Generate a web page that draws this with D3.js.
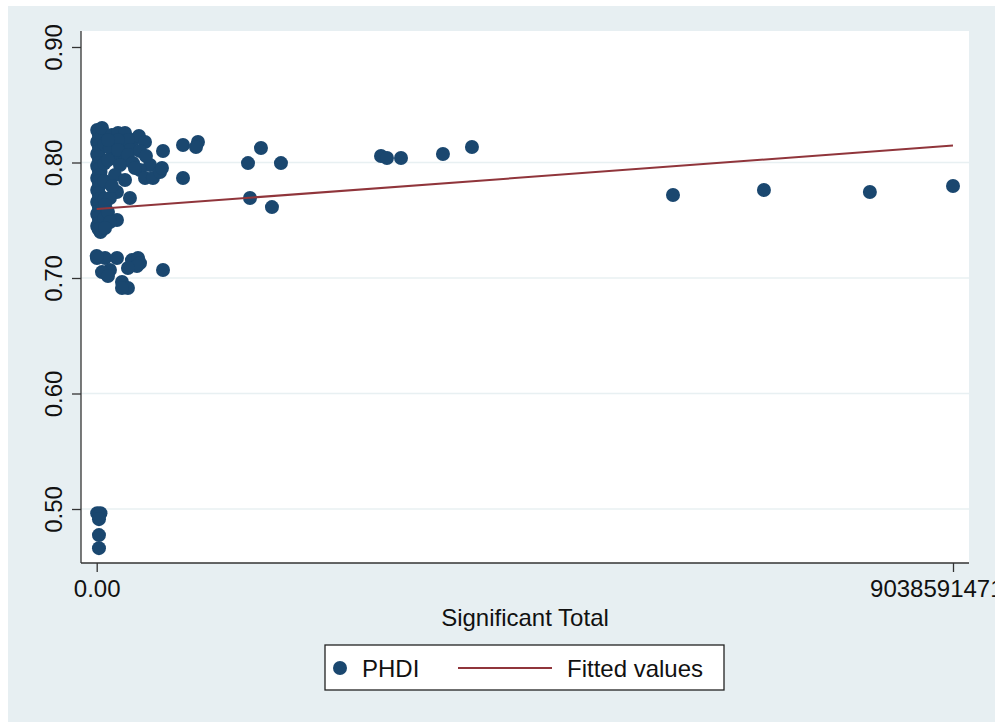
<!DOCTYPE html>
<html>
<head>
<meta charset="utf-8">
<script src="https://cdn.jsdelivr.net/npm/d3@7"></script>
<style>
html,body{margin:0;padding:0;background:#fff;}
svg{display:block;font-family:"Liberation Sans",Arial,Helvetica,sans-serif;}
</style>
</head>
<body>
<svg id="chart" width="995" height="722"></svg>
<script>
// ---- data (Significant Total, PHDI) ----
const sigTotal = [
  // dense column near zero
  5e6,40e6,5e6,40e6,5e6,40e6,5e6,40e6,5e6,40e6,5e6,40e6,5e6,40e6,5e6,40e6,5e6,40e6,
  20e6,20e6,20e6,20e6,20e6,20e6,20e6,20e6,20e6,20e6,20e6,20e6,20e6,20e6,20e6,20e6,20e6,
  80e6,80e6,80e6,80e6,80e6,
  // upper cluster
  56e6,161e6,225e6,299e6,383e6,446e6,510e6,246e6,140e6,
  330e6,225e6,119e6,351e6,193e6,299e6,563e6,457e6,
  225e6,330e6,457e6,520e6,700e6,119e6,246e6,
  383e6,404e6,510e6,594e6,668e6,689e6,193e6,299e6,
  214e6,351e6,140e6,161e6,88e6,119e6,
  214e6,140e6,88e6,
  // isolated mid points
  911e6,1069e6,1048e6,911e6,1597e6,1734e6,1945e6,1618e6,1850e6,
  3001e6,3064e6,3212e6,3655e6,3961e6,
  6083e6,7043e6,8161e6,9038591471,
  // lower cluster
  3e6,88e6,214e6,372e6,436e6,457e6,425e6,330e6,140e6,56e6,119e6,267e6,330e6,267e6,0,700e6,
  // outliers at the bottom
  5e6,40e6,24e6,24e6,24e6
];
const phdi = [
  0.8281,0.8229,0.8177,0.8125,0.8073,0.8021,0.7969,0.7917,0.7866,0.7814,0.7762,0.7710,0.7658,0.7606,0.7554,0.7502,0.7450,0.7398,
  0.8255,0.8203,0.8151,0.8099,0.8047,0.7995,0.7943,0.7892,0.7840,0.7788,0.7736,0.7684,0.7632,0.7580,0.7528,0.7476,0.7424,
  0.8160,0.7990,0.7840,0.7680,0.7520,
  0.8299,0.8238,0.8255,0.8255,0.8194,0.8229,0.8177,0.8151,0.8125,
  0.8194,0.8194,0.8194,0.8108,0.8039,0.8021,0.7978,0.7935,
  0.8108,0.8065,0.8099,0.8056,0.8099,0.8021,0.7978,
  0.7995,0.7952,0.7866,0.7866,0.7917,0.7952,0.7892,0.7848,
  0.7744,0.7692,0.7692,0.7796,0.7632,0.7571,
  0.7502,0.7485,0.7433,
  0.8151,0.8177,0.8134,0.7866,0.7995,0.8125,0.7995,0.7692,0.7614,
  0.8056,0.8039,0.8039,0.8073,0.8134,
  0.7718,0.7762,0.7744,0.7796,
  0.7173,0.7173,0.7173,0.7155,0.7173,0.7129,0.7103,0.7086,0.7069,0.7051,0.7017,0.6965,0.6913,0.6913,0.7190,0.7069,
  0.4964,0.4964,0.4912,0.4774,0.4661
];
const fitX = [0, 9038591471];
const fitY = [0.7597, 0.8147];
const yTicks = [0.5, 0.6, 0.7, 0.8, 0.9];
const xTicks = [0, 9038591471];
const xTickLabels = ["0.00", "9038591471.00"];
const xTitle = "Significant Total";
const legendLabels = ["PHDI", "Fitted values"];

// ---- styling ----
const W = 995, H = 722;
const plot = {left: 81, right: 969, top: 31, bottom: 563};
const bg = "#e7eff2";
const dotColor = "#1a476f";
const lineColor = "#90353b";

const svg = d3.select("#chart");

svg.append("rect").attr("x", 8).attr("y", 6).attr("width", W - 8).attr("height", H - 6).attr("fill", bg);
svg.append("rect").attr("x", plot.left).attr("y", plot.top)
  .attr("width", plot.right - plot.left).attr("height", plot.bottom - plot.top).attr("fill", "#fff");

const x = d3.scaleLinear().domain([-165.7e6, 9207.5e6]).range([plot.left, plot.right]);
const y = d3.scaleLinear().domain([0.45325, 0.91385]).range([plot.bottom, plot.top]);

// grid
svg.append("g").selectAll("line").data(yTicks.filter(d => d < 0.9)).join("line")
  .attr("x1", plot.left).attr("x2", plot.right)
  .attr("y1", d => y(d)).attr("y2", d => y(d))
  .attr("stroke", "#e8f0f2").attr("stroke-width", 1.6);

// y axis
const yAxis = svg.append("g").attr("transform", `translate(${plot.left},0)`)
  .call(d3.axisLeft(y).tickValues(yTicks).tickFormat(d3.format(".2f")).tickSize(9).tickPadding(0));
yAxis.select(".domain").attr("stroke", "#333").attr("stroke-width", 1.3)
  .attr("d", `M0,${plot.top}V${plot.bottom}`);
yAxis.selectAll(".tick line").attr("stroke", "#333").attr("stroke-width", 1.3);
yAxis.selectAll(".tick text")
  .attr("font-size", 24).attr("fill", "#111")
  .attr("text-anchor", "middle")
  .attr("x", 0).attr("y", 0).attr("dy", null)
  .attr("transform", "translate(-19,0) rotate(-90)");

// x axis
const xAxis = svg.append("g").attr("transform", `translate(0,${plot.bottom})`)
  .call(d3.axisBottom(x).tickValues(xTicks).tickFormat((d, i) => xTickLabels[i]).tickSize(9).tickPadding(8));
xAxis.select(".domain").attr("stroke", "#333").attr("stroke-width", 1.3)
  .attr("d", `M${plot.left},0H${plot.right}`);
xAxis.selectAll(".tick line").attr("stroke", "#333").attr("stroke-width", 1.3);
xAxis.selectAll(".tick text").attr("font-size", 24).attr("fill", "#111").attr("dy", "0.71em");

svg.append("text").attr("x", 525).attr("y", 626).attr("text-anchor", "middle")
  .attr("font-size", 24).attr("fill", "#111").text(xTitle);

// points
const pts = sigTotal.map((v, i) => ({x: v, y: phdi[i]}));
svg.append("g").selectAll("circle").data(pts).join("circle")
  .attr("cx", d => x(d.x)).attr("cy", d => y(d.y)).attr("r", 7)
  .attr("fill", dotColor);

// fitted line
svg.append("path").datum(fitX.map((v, i) => [v, fitY[i]]))
  .attr("d", d3.line().x(d => x(d[0])).y(d => y(d[1])))
  .attr("fill", "none").attr("stroke", lineColor).attr("stroke-width", 2);

// legend
const lg = svg.append("g");
lg.append("rect").attr("x", 325).attr("y", 645).attr("width", 399).attr("height", 45)
  .attr("fill", "#fff").attr("stroke", "#222").attr("stroke-width", 1.3);
lg.append("circle").attr("cx", 340).attr("cy", 668).attr("r", 7).attr("fill", dotColor);
lg.append("text").attr("x", 362).attr("y", 677).attr("font-size", 24).attr("fill", "#111").text(legendLabels[0]);
lg.append("line").attr("x1", 458).attr("x2", 552).attr("y1", 668).attr("y2", 668)
  .attr("stroke", lineColor).attr("stroke-width", 2);
lg.append("text").attr("x", 567).attr("y", 677).attr("font-size", 24).attr("fill", "#111").text(legendLabels[1]);
</script>
</body>
</html>
